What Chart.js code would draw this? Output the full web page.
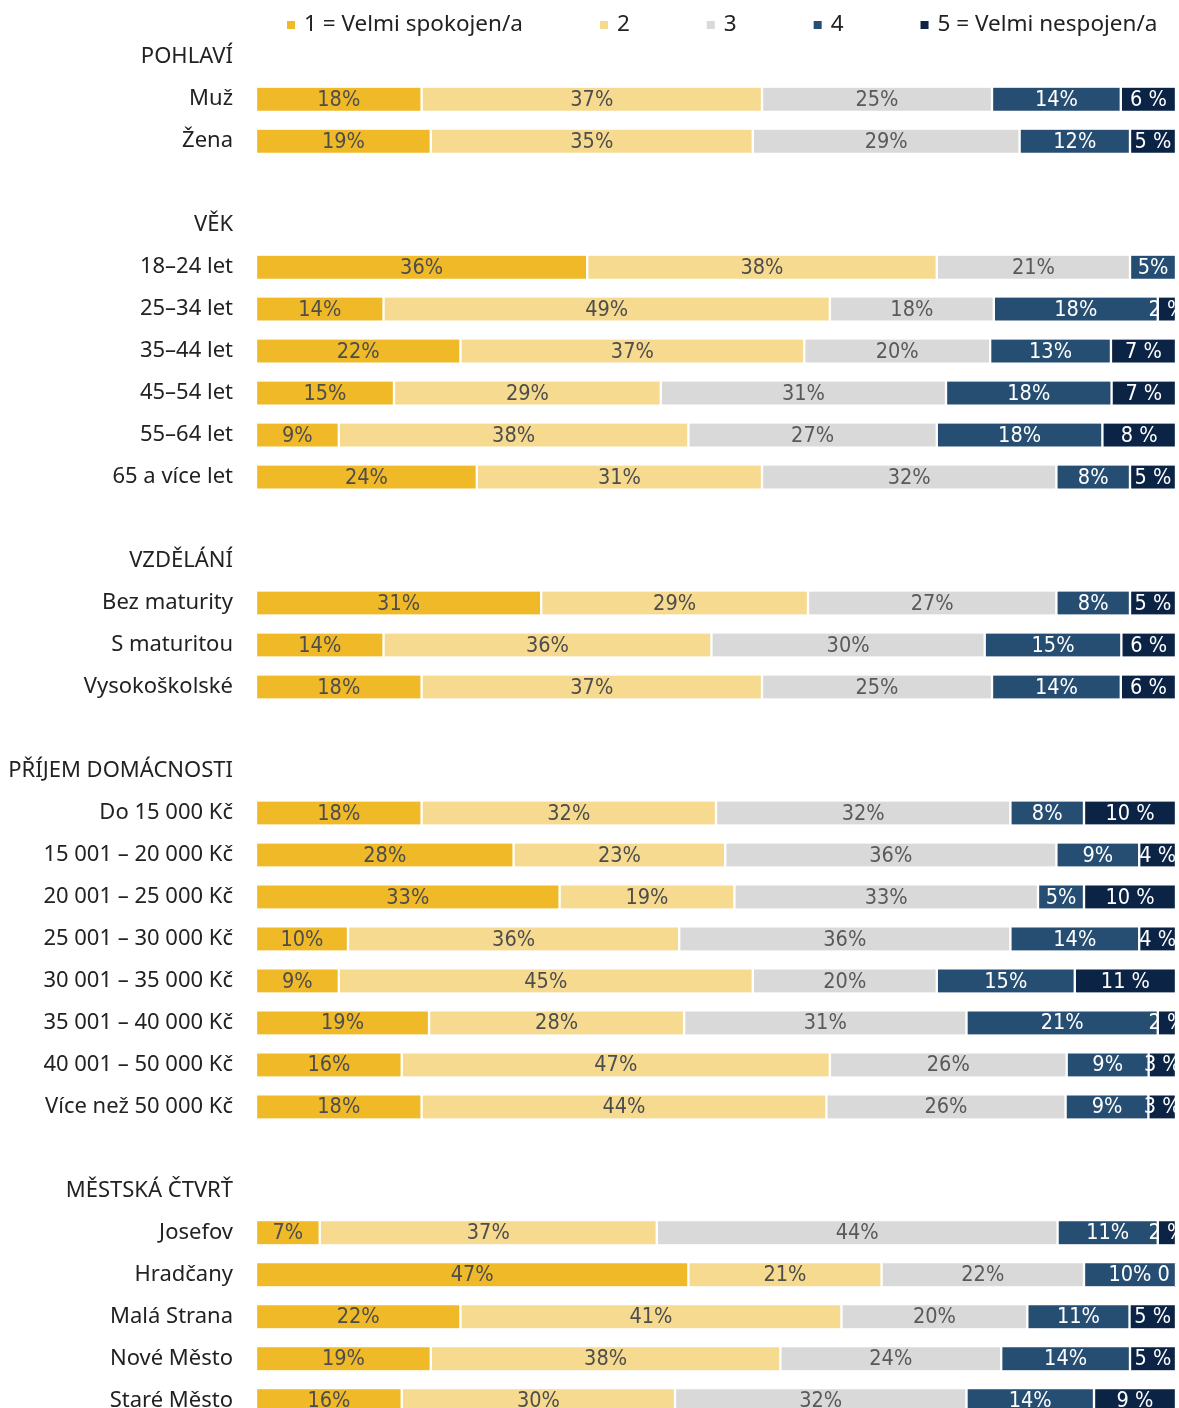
<!DOCTYPE html>
<html lang="cs">
<head>
<meta charset="utf-8">
<title>Spokojenost podle skupin</title>
<script src="https://cdn.jsdelivr.net/npm/chart.js@4.4.1/dist/chart.umd.min.js"></script>
<style>
  html, body { margin: 0; padding: 0; background: #fff; overflow: hidden; }
  #wrap { position: relative; width: 1179px; height: 1458px; }
</style>
</head>
<body>
<div id="wrap"><canvas id="chart"></canvas></div>
<script>
// row labels (section headers and blank spacer rows included)
const categories = [
  'POHLAVÍ', 'Muž', 'Žena', '',
  'VĚK', '18–24 let', '25–34 let', '35–44 let', '45–54 let', '55–64 let', '65 a více let', '',
  'VZDĚLÁNÍ', 'Bez maturity', 'S maturitou', 'Vysokoškolské', '',
  'PŘÍJEM DOMÁCNOSTI', 'Do 15 000 Kč', '15 001 – 20 000 Kč', '20 001 – 25 000 Kč', '25 001 – 30 000 Kč',
  '30 001 – 35 000 Kč', '35 001 – 40 000 Kč', '40 001 – 50 000 Kč', 'Více než 50 000 Kč', '',
  'MĚSTSKÁ ČTVRŤ', 'Josefov', 'Hradčany', 'Malá Strana', 'Nové Město', 'Staré Město'
];

const seriesNames = ['1 = Velmi spokojen/a', '2', '3', '4', '5 = Velmi nespojen/a'];

// percentages per answer (null = header / spacer row)
const s1 = [null, 18, 19, null, null, 36, 14, 22, 15, 9, 24, null, null, 31, 14, 18, null,
            null, 18, 28, 33, 10, 9, 19, 16, 18, null, null, 7, 47, 22, 19, 16];
const s2 = [null, 37, 35, null, null, 38, 49, 37, 29, 38, 31, null, null, 29, 36, 37, null,
            null, 32, 23, 19, 36, 45, 28, 47, 44, null, null, 37, 21, 41, 38, 30];
const s3 = [null, 25, 29, null, null, 21, 18, 20, 31, 27, 32, null, null, 27, 30, 25, null,
            null, 32, 36, 33, 36, 20, 31, 26, 26, null, null, 44, 22, 20, 24, 32];
const s4 = [null, 14, 12, null, null, 5, 18, 13, 18, 18, 8, null, null, 8, 15, 14, null,
            null, 8, 9, 5, 14, 15, 21, 9, 9, null, null, 11, 10, 11, 14, 14];
const s5 = [null, 6, 5, null, null, null, 2, 7, 7, 8, 5, null, null, 5, 6, 6, null,
            null, 10, 4, 10, 4, 11, 2, 3, 3, null, null, 2, 0, 5, 5, 9];

const series = [s1, s2, s3, s4, s5];
const colors = ['#F0B928', '#F6DA90', '#D9D9D9', '#264E72', '#0B2344'];
const labelColors = ['#4d4d4d', '#4d4d4d', '#595959', '#ffffff', '#ffffff'];

// 100 % stacked: scale each row to its total
const totals = categories.map((_, j) => series.reduce((sum, s) => sum + (s[j] || 0), 0));
const datasets = series.map((s, i) => ({
  label: seriesNames[i],
  data: s.map((v, j) => v === null ? null : v / totals[j] * 100),
  backgroundColor: colors[i],
  borderColor: '#ffffff',
  borderWidth: { left: 1.5, right: 1.5, top: 0, bottom: 0 },
  borderSkipped: false,
  barThickness: 23
}));

const valueLabels = {
  id: 'valueLabels',
  afterDatasetsDraw(chart) {
    const { ctx, chartArea } = chart;
    ctx.save();
    ctx.beginPath();
    ctx.rect(chartArea.left, chartArea.top, chartArea.right - chartArea.left, chartArea.bottom - chartArea.top);
    ctx.clip();
    ctx.font = '21.5px "DejaVu Sans Condensed"';
    ctx.textAlign = 'center';
    ctx.textBaseline = 'middle';
    series.forEach((s, i) => {
      chart.getDatasetMeta(i).data.forEach((bar, j) => {
        const v = s[j];
        if (v === null) return;
        ctx.fillStyle = labelColors[i];
        ctx.fillText(i === 4 ? v + ' %' : v + '%', (bar.x + bar.base) / 2, bar.y + 1);
      });
    });
    ctx.restore();
  }
};

const topLegend = {
  id: 'topLegend',
  afterDraw(chart) {
    const ctx = chart.ctx;
    ctx.save();
    ctx.font = '22.5px "Noto Sans"';
    ctx.textBaseline = 'middle';
    let x = 287;
    const y = 25;
    chart.data.datasets.forEach(ds => {
      ctx.fillStyle = ds.backgroundColor;
      ctx.fillRect(x, y - 4, 8, 8);
      ctx.fillStyle = '#222222';
      ctx.fillText(ds.label, x + 17, y);
      x += 17 + ctx.measureText(ds.label).width + 77;
    });
    ctx.restore();
  }
};

new Chart(document.getElementById('chart'), {
  type: 'bar',
  data: { labels: categories, datasets: datasets },
  options: {
    indexAxis: 'y',
    responsive: true,
    maintainAspectRatio: false,
    animation: false,
    layout: { padding: { top: 35.5, right: 3, bottom: 0, left: 0 } },
    plugins: {
      legend: { display: false },
      tooltip: { enabled: false }
    },
    scales: {
      x: {
        stacked: true,
        min: 0,
        max: 100,
        display: false
      },
      y: {
        stacked: true,
        grid: { display: false, drawTicks: false },
        border: { display: false },
        ticks: {
          autoSkip: false,
          padding: 23,
          color: '#222222',
          font: { family: '"Noto Sans"', size: 22 }
        },
        afterFit(scale) { scale.width = 256; }
      }
    }
  },
  plugins: [valueLabels, topLegend]
});
</script>
</body>
</html>
